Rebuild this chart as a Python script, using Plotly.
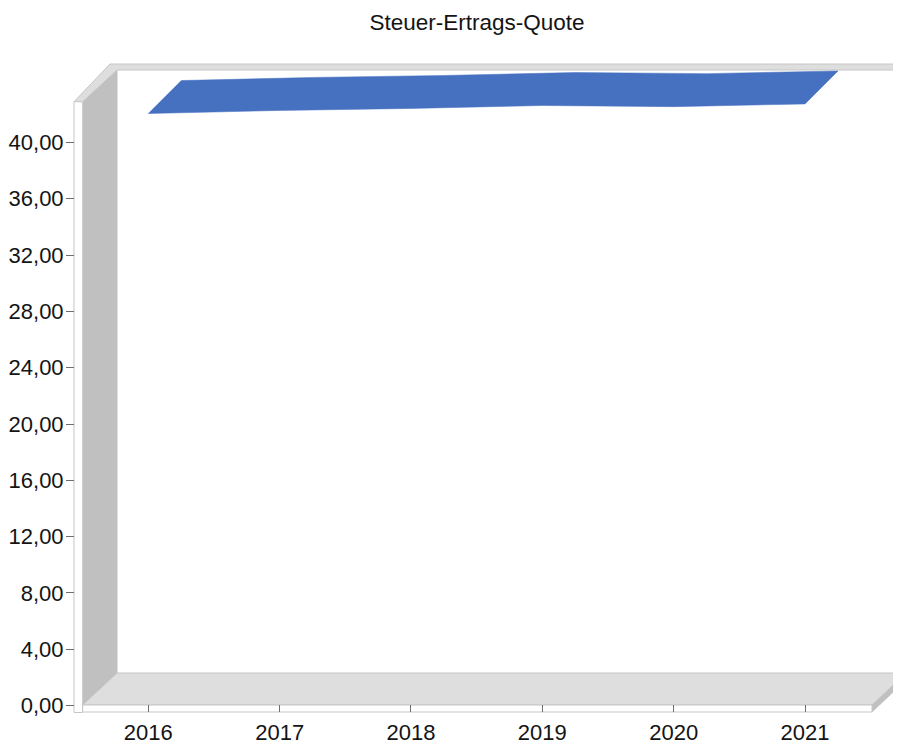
import plotly.graph_objects as go

# ---------------- data ----------------
years = [2016, 2017, 2018, 2019, 2020, 2021]
quote = [42.05, 42.27, 42.41, 42.62, 42.54, 42.73]
y_ticks = [0, 4, 8, 12, 16, 20, 24, 28, 32, 36, 40]
chart_title = "Steuer-Ertrags-Quote"

# ---------------- geometry ----------------
# the page body adds an 8px offset; the figure fills the rest of the window
OFF = 8
W, H = 901 - OFF, 744 - OFF
X_PX_PER_YEAR = 131.34
X_AT_FIRST = 148.3 - OFF
Y_PX_PER_UNIT = 14.08
Y_ZERO_PX = 705.6 - OFF
DEPTH_PX_X = 33.0
DEPTH_PX_Y = 33.0

x0 = years[0] - X_AT_FIRST / X_PX_PER_YEAR
x1 = x0 + W / X_PX_PER_YEAR
y_top = Y_ZERO_PX / Y_PX_PER_UNIT
y_bot = -(H - Y_ZERO_PX) / Y_PX_PER_UNIT
ddx = DEPTH_PX_X / X_PX_PER_YEAR
ddy = DEPTH_PX_Y / Y_PX_PER_UNIT

FONT = "Liberation Sans, Arial, sans-serif"
TXT = "#141414"
WALL_DARK = "#c0c0c0"
FLOOR = "#dedede"
EDGE = "#c6c6c6"
BLUE = "#4670c0"


def P(px, py):
    # px, py are window pixel positions of the reference
    return (px - OFF) / W, 1 - (py - OFF) / H


def path(points):
    pts = [P(a, b) for a, b in points]
    s = "M {:.5f},{:.5f} ".format(*pts[0])
    for p in pts[1:]:
        s += "L {:.5f},{:.5f} ".format(*p)
    return s + "Z"


def shape(points, fill, line=EDGE, width=1):
    return dict(type="path", xref="paper", yref="paper", path=path(points),
                fillcolor=fill, line=dict(color=line, width=width), layer="below")


shapes = [
    # left wall inner face
    shape([(82.7, 101.7), (117, 70), (117, 673), (82.7, 705)], WALL_DARK, WALL_DARK),
    # floor top face
    shape([(82.7, 705), (117, 673), (912, 673), (872, 705)], FLOOR),
    # floor right side
    shape([(872, 705), (906, 673), (906, 680), (872, 712)], WALL_DARK, EDGE),
    # top band (left wall top + back wall top)
    shape([(74, 101.7), (110, 64), (910, 64), (910, 70), (117, 70), (82.7, 101.7)], FLOOR),
    # left wall front strip
    shape([(74, 101.7), (82.7, 101.7), (82.7, 712.5), (74, 712.5)], "white"),
    # floor front strip
    shape([(82.7, 705), (872, 705), (872, 712), (82.7, 712)], "white"),
]

# ribbon built from the data
rx = list(years) + [y + ddx for y in reversed(years)]
ry = list(quote) + [v + ddy for v in reversed(quote)]
rx.append(rx[0])
ry.append(ry[0])

fig = go.Figure()
fig.add_trace(go.Scatter(x=rx, y=ry, mode="lines", fill="toself",
                         fillcolor=BLUE, line=dict(color=BLUE, width=0.5),
                         hoverinfo="skip", showlegend=False))

fig.update_layout(
    width=W, height=H,
    margin=dict(l=0, r=0, t=0, b=0, pad=0),
    paper_bgcolor="white", plot_bgcolor="white",
    separators=",.",
    font=dict(family=FONT, color=TXT, size=22),
    showlegend=False,
    shapes=shapes,
    title=dict(text=chart_title, x=(477 - OFF) / W, xanchor="center", xref="paper",
               y=1 - (21.7 - OFF) / H, yanchor="middle", yref="container",
               font=dict(family=FONT, size=22.5, color=TXT)),
    xaxis=dict(range=[x0, x1], domain=[0, 1], anchor="free", position=1 - (712 - OFF) / H,
               showgrid=False, zeroline=False, showline=False, automargin=False,
               tickmode="array", tickvals=years, ticktext=[str(y) for y in years],
               ticks="inside", ticklen=7, tickcolor="#6e6e6e", tickwidth=1,
               ticklabelstandoff=5,
               tickfont=dict(size=22, family=FONT, color=TXT), fixedrange=True),
    yaxis=dict(range=[y_bot, y_top], domain=[0, 1], anchor="free", position=(74 - OFF) / W,
               showgrid=False, zeroline=False, showline=False, automargin=False,
               tickmode="array", tickvals=y_ticks, tickformat=".2f",
               ticks="outside", ticklen=8, tickcolor="#6e6e6e", tickwidth=1,
               ticklabelstandoff=-2,
               tickfont=dict(size=22, family=FONT, color=TXT), fixedrange=True),
)

fig.write_html("out.html")
